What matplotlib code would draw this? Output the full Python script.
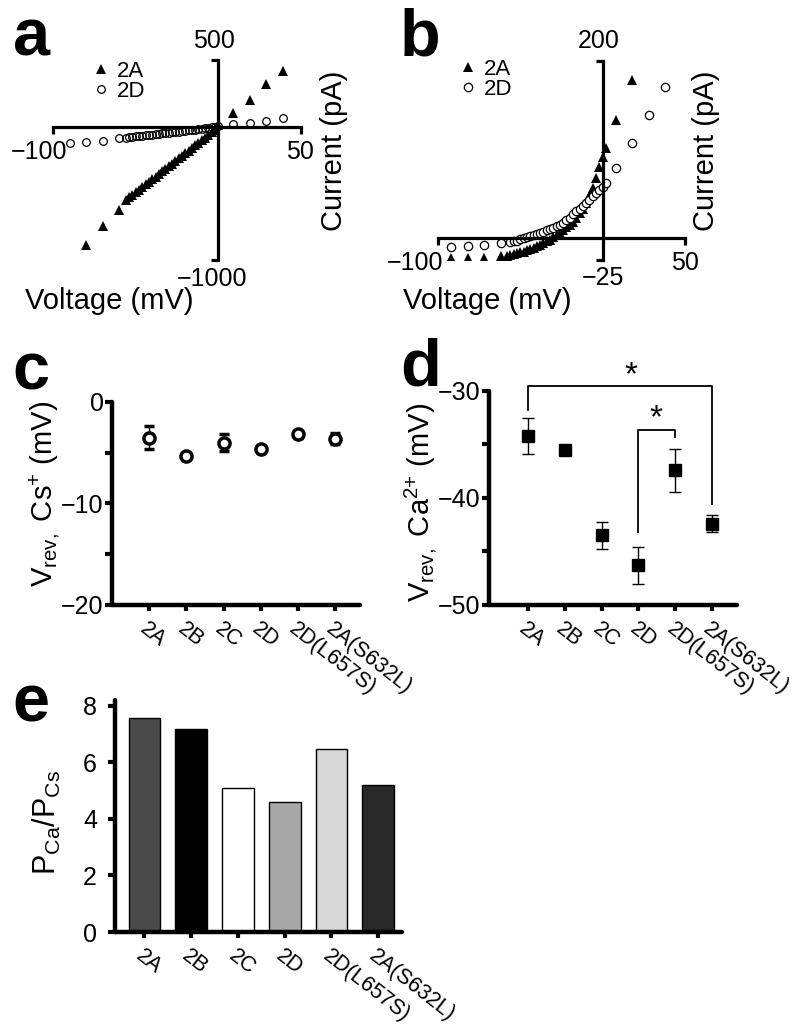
import matplotlib
matplotlib.use("Agg")
import matplotlib.pyplot as plt
import numpy as np
from matplotlib.transforms import ScaledTranslation

plt.rcParams['font.family'] = ['Liberation Sans', 'DejaVu Sans']
plt.rcParams['mathtext.fontset'] = 'custom'
plt.rcParams['mathtext.rm'] = 'Liberation Sans'
plt.rcParams['mathtext.it'] = 'Liberation Sans:italic'
plt.rcParams['mathtext.bf'] = 'Liberation Sans:bold'

# ---- data ----
# panel a : I-V, Cs+ (steps + ramp)
a_2a_step_v = [-80, -70, -60, 9, 19, 29, 39]
a_2a_step_i = [-888, -746, -626, 103, 200, 320, 418]
a_ramp_v = np.arange(-56, 1, 2)
a_2a_ramp_i = [-550, -531, -511, -492, -472, -453, -433, -414, -394, -375,
               -355, -336, -316, -297, -277, -258, -238, -219, -199, -180,
               -160, -141, -121, -102, -82, -63, -43, -24, 15]
a_2d_step_v = [-90, -80, -70, -60, 9, 19, 29, 39]
a_2d_step_i = [-122, -115, -107, -85, 20, 28, 43, 65]
a_2d_ramp_i = [-82, -79, -76, -73, -70, -67, -65, -62, -59, -56,
               -53, -51, -48, -45, -42, -40, -37, -34, -31, -28,
               -25, -22, -19, -16, -13, -10, -5, -2, 3]

# panel b : I-V, Ca2+
b_2a_step_v = [-92, -82, -72, -62, 8, 18]
b_2a_step_i = [-23, -23, -23, -21, 133, 179]
b_2a_ramp_v = np.arange(-58, 3, 2)
b_2a_ramp_i = [-20, -19, -18, -17.5, -16.5, -15.5, -14, -12.5, -11, -9.5,
               -8, -6, -4, -2, 1, 3.5, 6, 9, 12, 15,
               18.5, 23, 28, 33, 39.5, 47, 56, 68, 80, 92, 102]
b_2d_step_v = [-92, -82, -72, -62, 8, 18, 28, 38]
b_2d_step_i = [-10, -9, -8, -5.5, 79, 107, 139, 171]
b_2d_ramp_v = np.arange(-56, 3, 2)
b_2d_ramp_i = [-5, -4, -3, -1.5, 0, 1, 2, 3, 4.5, 5.7,
               7, 8.5, 10, 11.5, 13, 15, 17, 20, 23, 26.5,
               30, 33, 36, 39, 43, 47, 51, 54, 58, 62]

cats = ['2A', '2B', '2C', '2D', '2D(L657S)', '2A(S632L)']
vrev_cs = [-3.5, -5.3, -4.0, -4.6, -3.2, -3.6]
vrev_cs_err = [1.1, 0.2, 0.8, 0.3, 0.3, 0.5]
vrev_ca = [-34.2, -35.5, -43.5, -46.3, -37.4, -42.4]
vrev_ca_err = [1.7, 0.2, 1.3, 1.7, 2.0, 0.8]
pca_pcs = [7.56, 7.19, 5.08, 4.59, 6.48, 5.19]
bar_colors = ['#4a4a4a', '#000000', '#ffffff', '#a8a8a8', '#d9d9d9', '#282828']

W, H = 800, 1025


def px_rect(x0, y0, x1, y1):
    return [x0 / W, 1 - y1 / H, (x1 - x0) / W, (y1 - y0) / H]


fig = plt.figure(figsize=(W / 100, H / 100), dpi=100)

TICK_FS = 18
LAB_FS = 21
LEG_FS = 16
VLAB_FS = 21


def iv_axes(rect, xlim, ylim, tlabels, offs):
    ax = fig.add_axes(rect)
    ax.set_xlim(*xlim)
    ax.set_ylim(*ylim)
    for s in ['top', 'right']:
        ax.spines[s].set_visible(False)
    ax.spines['left'].set_position(('data', 0))
    ax.spines['bottom'].set_position(('data', 0))
    for s in ['left', 'bottom']:
        ax.spines[s].set_linewidth(2.3)
    ax.set_xticks(list(xlim))
    ax.set_yticks(list(ylim))
    ax.set_xticklabels([])
    ax.set_yticklabels([])
    ax.tick_params(direction='out', length=5, width=2.3)
    pts = [(xlim[0], 0), (xlim[1], 0), (0, ylim[1]), (0, ylim[0])]
    aligns = [('right', 'center'), ('center', 'center'),
              ('center', 'bottom'), ('center', 'top')]
    for lab, xy, (ha, va), off in zip(tlabels, pts, aligns, offs):
        ax.annotate(lab, xy=xy, xytext=off, textcoords='offset pixels',
                    ha=ha, va=va, fontsize=TICK_FS, annotation_clip=False)
    return ax


# ---- panel a ----
ax_a = iv_axes(px_rect(53, 60, 301, 260), (-100, 50), (-1000, 500),
               ['\u2212100', '50', '500', '\u22121000'],
               [(14, -25), (-1, -25), (-4, 7), (-6, -7)])
ax_a.plot(a_2d_step_v, a_2d_step_i, 'o', ms=5.5, mfc='none', mec='black', mew=0.9,
          label='2D', clip_on=False)
ax_a.plot(a_ramp_v, a_2d_ramp_i, 'o', ms=5.5, mfc='none', mec='black', mew=0.9)
ax_a.plot(a_2a_step_v, a_2a_step_i, '^', ms=7, color='black', mew=0, label='2A')
ax_a.plot(a_ramp_v, a_2a_ramp_i, '^', ms=7.5, color='black', mew=0)
h, l = ax_a.get_legend_handles_labels()
ax_a.legend(h[::-1], l[::-1], loc='upper left', bbox_to_anchor=(90 / W, 1 - 61 / H),
            bbox_transform=fig.transFigure, frameon=False, fontsize=LEG_FS,
            handlelength=1.0, handletextpad=0.2, labelspacing=-0.05,
            borderpad=0, borderaxespad=0, numpoints=1)

# ---- panel b ----
ax_b = iv_axes(px_rect(438, 61, 685, 260), (-100, 50), (-25, 200),
               ['\u2212100', '50', '200', '\u221225'],
               [(5, -25), (0, -25), (-4, 8), (0, -6)])
ax_b.plot(b_2a_step_v, b_2a_step_i, '^', ms=7, color='black', mew=0, label='2A')
ax_b.plot(b_2a_ramp_v, b_2a_ramp_i, '^', ms=7.5, color='black', mew=0)
ax_b.plot(b_2d_step_v, b_2d_step_i, 'o', ms=6, mfc='white', mec='black', mew=0.9,
          label='2D')
ax_b.plot(b_2d_ramp_v, b_2d_ramp_i, 'o', ms=6, mfc='white', mec='black', mew=0.9)
ax_b.legend(loc='upper left', bbox_to_anchor=(457 / W, 1 - 59 / H),
            bbox_transform=fig.transFigure, frameon=False, fontsize=LEG_FS,
            handlelength=1.0, handletextpad=0.2, labelspacing=-0.05,
            borderpad=0, borderaxespad=0, numpoints=1)

fig.text(25 / W, 1 - 309 / H, 'Voltage (mV)', fontsize=LAB_FS, ha='left', va='baseline')
fig.text(403 / W, 1 - 309 / H, 'Voltage (mV)', fontsize=LAB_FS, ha='left', va='baseline')
fig.text(334 / W, 1 - 151 / H, 'Current (pA)', fontsize=LAB_FS, rotation=90,
         ha='center', va='center')
fig.text(706 / W, 1 - 151 / H, 'Current (pA)', fontsize=LAB_FS, rotation=90,
         ha='center', va='center')


def cat_axes(rect, xlim, ylim, yticks, yminor, pad_y, lab_off):
    ax = fig.add_axes(rect)
    ax.set_xlim(*xlim)
    ax.set_ylim(*ylim)
    for s in ['top', 'right']:
        ax.spines[s].set_visible(False)
    for s in ['left', 'bottom']:
        ax.spines[s].set_linewidth(3.2)
        ax.spines[s].set_capstyle('round')
    ax.set_yticks(yticks)
    ax.set_yticklabels([f'{t:g}'.replace('-', '\u2212') for t in yticks])
    if yminor:
        ax.set_yticks(yminor, minor=True)
    ax.set_xticks(range(len(cats)))
    ax.set_xticklabels(cats, rotation=-38, ha='left', va='top',
                       rotation_mode='anchor', fontsize=15.5)
    ax.tick_params(axis='y', which='both', direction='out', length=5, width=3,
                   labelsize=TICK_FS, pad=pad_y)
    ax.tick_params(axis='x', direction='out', length=4, width=3, pad=6)
    shift = ScaledTranslation(lab_off / 100, 0, fig.dpi_scale_trans)
    for t in ax.get_xticklabels():
        t.set_transform(t.get_transform() + shift)
    return ax


# ---- panel c ----
ax_c = cat_axes(px_rect(112, 402, 360, 605), (-1.0, 5.67), (-20, 0),
                [0, -10, -20], [-5, -15], 1, 0)
ax_c.errorbar(range(len(cats)), vrev_cs, yerr=vrev_cs_err, fmt='o', ms=8,
              mfc='white', mec='black', mew=2.5, ecolor='black', elinewidth=1,
              capsize=3.5, capthick=1, clip_on=False)
fig.text(45 / W, 1 - 494 / H, r'V$_{\mathrm{rev,}}$ Cs$^{+}$ (mV)', fontsize=VLAB_FS,
         rotation=90, ha='center', va='center')

# ---- panel d ----
ax_d = cat_axes(px_rect(489, 391, 737, 605), (-1.05, 5.67), (-50, -30),
                [-30, -40, -50], [-35, -45], 1, 0)
ax_d.errorbar(range(len(cats)), vrev_ca, yerr=vrev_ca_err, fmt='s', ms=8.5,
              mfc='black', mec='black', ecolor='black', elinewidth=1,
              capsize=4, capthick=1, clip_on=False)
fig.text(421 / W, 1 - 502 / H, r'V$_{\mathrm{rev,}}$ Ca$^{2{+}}$ (mV)', fontsize=VLAB_FS,
         rotation=90, ha='center', va='center')

# significance brackets
ax_d.plot([0, 0, 5, 5], [-31.8, -29.5, -29.5, -40.6], color='black', lw=1.3,
          clip_on=False)
ax_d.text(2.8, -28.6, '*', fontsize=24, ha='center', va='center')
ax_d.plot([3, 3, 4, 4], [-43.2, -33.6, -33.6, -34.3], color='black', lw=1.3,
          clip_on=False)
ax_d.text(3.48, -32.6, '*', fontsize=24, ha='center', va='center')

# ---- panel e ----
ax_e = cat_axes(px_rect(115, 700, 402, 932), (-0.63, 5.51), (0, 8.2),
                [0, 2, 4, 6, 8], None, 8, 0)
ax_e.bar(range(len(cats)), pca_pcs, width=0.68, color=bar_colors,
         edgecolor='black', linewidth=1.0)
fig.text(47 / W, 1 - 822 / H, r'P$_{\mathrm{Ca}}$/P$_{\mathrm{Cs}}$', fontsize=22,
         rotation=90, ha='center', va='center')

# panel letters
for let, x, y in [('a', 13, 55), ('b', 400, 55), ('c', 12, 390),
                  ('d', 400, 386), ('e', 12, 722)]:
    fig.text(x / W, 1 - y / H, let, fontsize=48, fontweight='bold',
             ha='left', va='baseline')

fig.savefig('out.png', dpi=100)
